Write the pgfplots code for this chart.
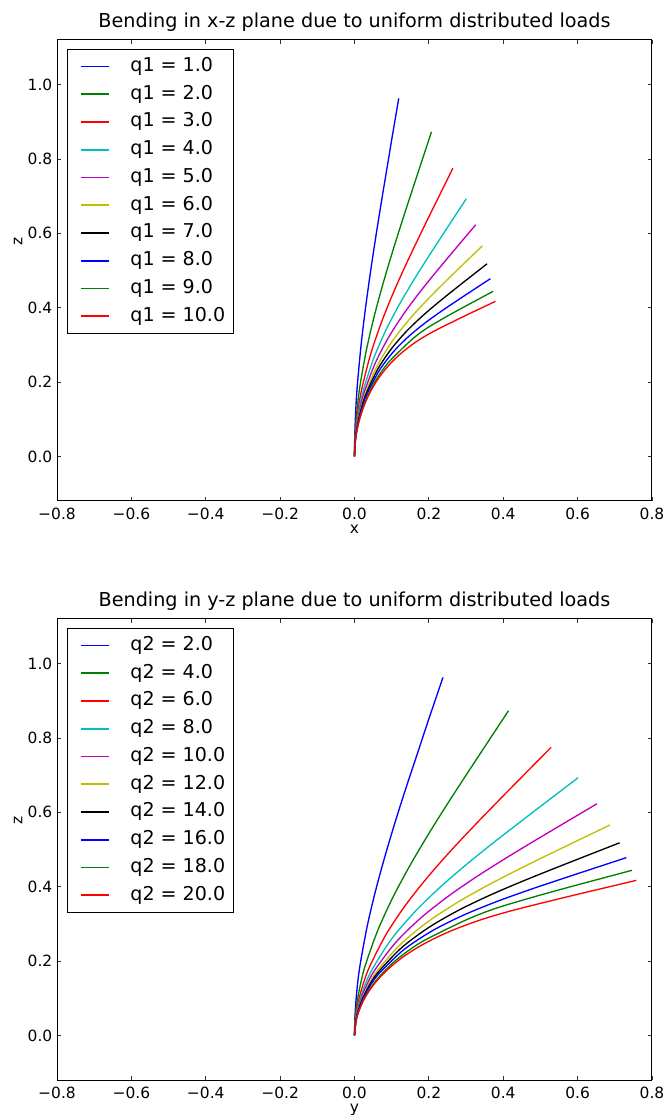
\documentclass[border=0pt]{standalone}
\usepackage{fontspec}
\setmainfont{DejaVu Sans}
\usepackage{pgfplots}
\pgfplotsset{compat=1.18}
\usepackage{pgfplotstable}

\definecolor{mb}{rgb}{0,0,1}
\definecolor{mg}{rgb}{0,0.5,0}
\definecolor{mr}{rgb}{1,0,0}
\definecolor{mc}{rgb}{0,0.75,0.75}
\definecolor{mm}{rgb}{0.75,0,0.75}
\definecolor{my}{rgb}{0.75,0.75,0}
\definecolor{mk}{rgb}{0,0,0}

% columns: x (top plot), y (bottom plot), z
\pgfplotstableread{
x y z
0 0 0
0.0006 0.0012 0.05
0.00225 0.0045 0.100
0.00475 0.0095 0.150
0.0083 0.0166 0.199
0.01745 0.0349 0.297
0.02895 0.0579 0.394
0.04215 0.0843 0.490
0.05655 0.1131 0.586
0.07175 0.1435 0.681
0.08735 0.1747 0.775
0.10315 0.2063 0.870
0.1190 0.2380 0.963
}\tA
\pgfplotstableread{
x y z
0 0 0
0.00105 0.0021 0.049
0.00405 0.0081 0.0973
0.0089 0.0178 0.1453
0.0152 0.0304 0.1926
0.03175 0.0635 0.2847
0.0522 0.1044 0.3736
0.0754 0.1508 0.4599
0.10035 0.2007 0.5442
0.1264 0.2528 0.6272
0.1531 0.3062 0.7094
0.18005 0.3601 0.7913
0.20705 0.4141 0.8731
}\tB
\pgfplotstableread{
x y z
0 0 0
0.00145 0.0029 0.0479
0.00565 0.0113 0.0952
0.0122 0.0244 0.1414
0.0206 0.0412 0.1861
0.04245 0.0849 0.2715
0.06905 0.1381 0.3514
0.09885 0.1977 0.4269
0.1306 0.2612 0.4991
0.1635 0.3270 0.5691
0.19695 0.3939 0.6381
0.2307 0.4614 0.7066
0.2645 0.5290 0.7750
}\tC
\pgfplotstableread{
x y z
0 0 0
0.00175 0.0035 0.0472
0.0068 0.0136 0.0934
0.01465 0.0293 0.1381
0.0246 0.0492 0.1807
0.05025 0.1005 0.2602
0.0810 0.1620 0.3322
0.11495 0.2299 0.3983
0.1508 0.3016 0.4603
0.18775 0.3755 0.5197
0.2252 0.4504 0.5778
0.2629 0.5258 0.6355
0.3006 0.6012 0.6930
}\tD
\pgfplotstableread{
x y z
0 0 0
0.00195 0.0039 0.0463
0.0076 0.0152 0.0916
0.0163 0.0326 0.1349
0.0273 0.0546 0.1757
0.0555 0.1110 0.2502
0.0891 0.1782 0.3157
0.1260 0.2520 0.3741
0.16475 0.3295 0.4276
0.20455 0.4091 0.4780
0.2449 0.4898 0.5268
0.28545 0.5709 0.5750
0.3260 0.6520 0.6230
}\tE
\pgfplotstableread{
x y z
0 0 0
0.00215 0.0043 0.0455
0.00825 0.0165 0.0897
0.0177 0.0354 0.1317
0.02955 0.0591 0.1708
0.05975 0.1195 0.2409
0.0954 0.1908 0.3008
0.13435 0.2687 0.3528
0.17505 0.3501 0.3993
0.21675 0.4335 0.4426
0.25885 0.5177 0.4842
0.30115 0.6023 0.5252
0.3435 0.6870 0.5660
}\tF
\pgfplotstableread{
x y z
0 0 0
0.0023 0.0046 0.0454
0.0088 0.0176 0.0892
0.0188 0.0376 0.1305
0.03135 0.0627 0.1686
0.0631 0.1262 0.2355
0.10035 0.2007 0.2909
0.14075 0.2815 0.3374
0.1829 0.3658 0.3778
0.2259 0.4518 0.4146
0.26935 0.5387 0.4496
0.3129 0.6258 0.4839
0.3565 0.7130 0.5180
}\tG
\pgfplotstableread{
x y z
0 0 0
0.00245 0.0049 0.0454
0.00935 0.0187 0.0890
0.01995 0.0399 0.1297
0.03315 0.0663 0.1667
0.0663 0.1326 0.2304
0.1048 0.2096 0.2816
0.1463 0.2926 0.3232
0.1893 0.3786 0.3585
0.2330 0.4660 0.3901
0.2771 0.5542 0.4199
0.32125 0.6425 0.4490
0.3655 0.7310 0.4780
}\tH
\pgfplotstableread{
x y z
0 0 0
0.0033 0.0066 0.050
0.01335 0.0267 0.100
0.0300 0.0600 0.150
0.05435 0.1087 0.200
0.0891 0.1782 0.250
0.1387 0.2774 0.300
0.1665 0.3330 0.3245
0.1958 0.3916 0.3456
0.2399 0.4798 0.3718
0.2842 0.5684 0.3964
0.3286 0.6572 0.4203
0.3730 0.7460 0.4440
}\tI
\pgfplotstableread{
x y z
0 0 0
0.0033 0.0066 0.0491
0.0124 0.0248 0.0953
0.0260 0.0520 0.1371
0.0428 0.0856 0.1739
0.0619 0.1238 0.2060
0.08265 0.1653 0.2338
0.1045 0.2090 0.2579
0.1272 0.2544 0.2789
0.15045 0.3009 0.2973
0.17405 0.3481 0.3136
0.1980 0.3960 0.3281
0.22215 0.4443 0.3411
0.2600 0.5200 0.3600
0.3000 0.6000 0.3795
0.3400 0.6800 0.3985
0.3790 0.7580 0.4170
}\tJ

\pgfplotsset{
  beam/.style={
    scale only axis, width=446.25pt, height=345.75pt,
    xmin=-0.8, xmax=0.8, ymin=-0.12, ymax=1.12,
    xtick={-0.8,-0.6,-0.4,-0.2,0,0.2,0.4,0.6,0.8},
    xticklabels={−0.8,−0.6,−0.4,−0.2,0.0,0.2,0.4,0.6,0.8},
    ytick={0,0.2,0.4,0.6,0.8,1.0},
    yticklabels={0.0,0.2,0.4,0.6,0.8,1.0},
    tick align=inside, tick pos=both, major tick length=3pt,
    axis line style={line width=0.75pt, black},
    every tick/.style={line width=0.6pt, black!80},
    tick label style={font=\fontsize{11.6}{13}\selectfont},
    xticklabel style={yshift=-1.4pt},
    label style={font=\fontsize{11.6}{13}\selectfont},
    xlabel style={at={(axis description cs:0.5,0)}, anchor=center, yshift=-21pt},
    ylabel style={at={(axis description cs:-0.0655,0.562)}, anchor=center, rotate=0},
    title style={at={(axis description cs:0.5,1)}, anchor=center, yshift=7.5pt,
      font=\fontsize{14.4}{16}\selectfont},
    legend style={at={(axis description cs:0.0163,0.980)}, anchor=north west,
      draw=black, line width=0.75pt, fill=white,
      inner xsep=6pt, inner ysep=6pt,
      font=\fontsize{14.3}{16}\selectfont,
      row sep=7.5pt, column sep=15.45pt,
      nodes={inner sep=0pt, text height=10.3pt, text depth=3pt},
      cells={anchor=west}},
    legend image code/.code={\path (0pt,0pt); \draw[#1,line width=1.3pt] (3.5pt,0pt) -- (24.8pt,0pt);},
    every axis plot/.append style={line width=1.0pt, smooth},
  }
}

\begin{document}
\begin{tikzpicture}
\path[use as bounding box] (0,0) rectangle (502.5pt,836.25pt);

\begin{axis}[beam, at={(42.75pt,460.5pt)}, anchor=south west,
  title={Bending in x-z plane due to uniform distributed loads},
  xlabel={x}, ylabel={z}]
\addplot[mb] table[x=x,y=z]{\tA};
\addplot[mg] table[x=x,y=z]{\tB};
\addplot[mr] table[x=x,y=z]{\tC};
\addplot[mc] table[x=x,y=z]{\tD};
\addplot[mm] table[x=x,y=z]{\tE};
\addplot[my] table[x=x,y=z]{\tF};
\addplot[mk] table[x=x,y=z]{\tG};
\addplot[mb] table[x=x,y=z]{\tH};
\addplot[mg] table[x=x,y=z]{\tI};
\addplot[mr] table[x=x,y=z]{\tJ};
\legend{q1 = 1.0,q1 = 2.0,q1 = 3.0,q1 = 4.0,q1 = 5.0,q1 = 6.0,q1 = 7.0,q1 = 8.0,q1 = 9.0,q1 = 10.0}
\end{axis}

\begin{axis}[beam, at={(42.75pt,26.25pt)}, anchor=south west,
  title={Bending in y-z plane due to uniform distributed loads},
  xlabel={y}, ylabel={z}, xlabel style={yshift=-1.2pt}]
\addplot[mb] table[x=y,y=z]{\tA};
\addplot[mg] table[x=y,y=z]{\tB};
\addplot[mr] table[x=y,y=z]{\tC};
\addplot[mc] table[x=y,y=z]{\tD};
\addplot[mm] table[x=y,y=z]{\tE};
\addplot[my] table[x=y,y=z]{\tF};
\addplot[mk] table[x=y,y=z]{\tG};
\addplot[mb] table[x=y,y=z]{\tH};
\addplot[mg] table[x=y,y=z]{\tI};
\addplot[mr] table[x=y,y=z]{\tJ};
\legend{q2 = 2.0,q2 = 4.0,q2 = 6.0,q2 = 8.0,q2 = 10.0,q2 = 12.0,q2 = 14.0,q2 = 16.0,q2 = 18.0,q2 = 20.0}
\end{axis}
\end{tikzpicture}
\end{document}
